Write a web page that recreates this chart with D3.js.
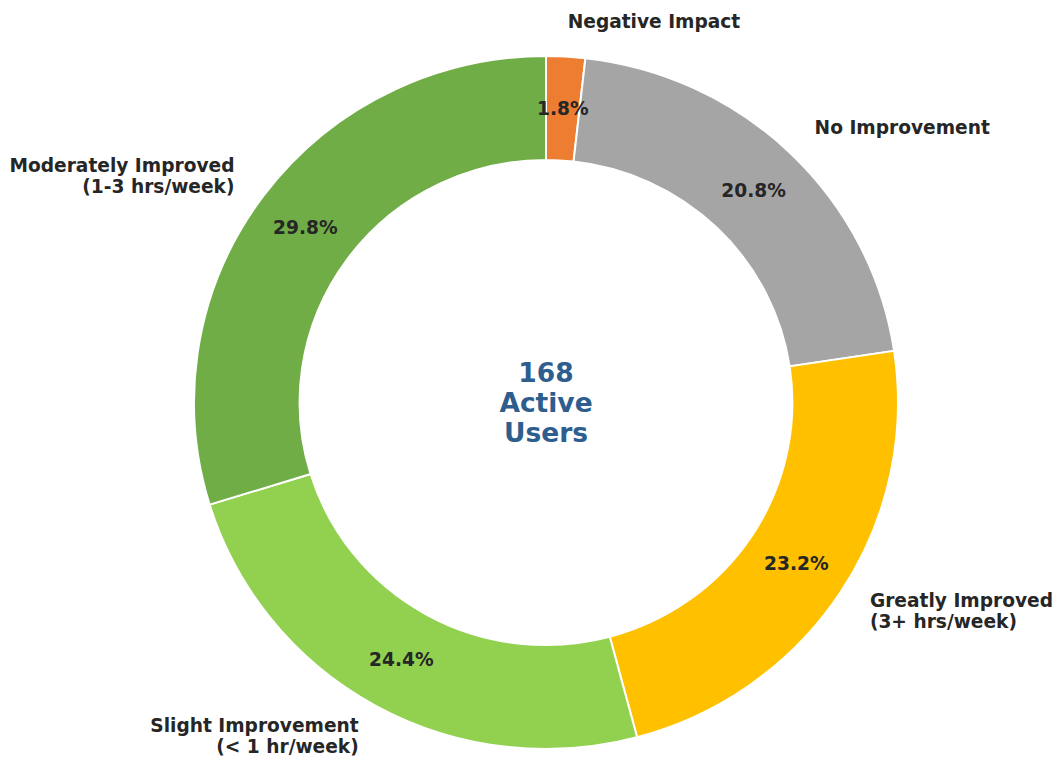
<!DOCTYPE html>
<meta charset="utf-8">
<style>
body { margin: 0; background: #fff; }
svg { font-family: "DejaVu Sans", sans-serif; font-weight: bold; }
.label, .pct { fill: #262626; font-size: 18.6px; }
.center { fill: #2e5e8e; font-size: 26.5px; }
</style>
<body>
<script src="https://cdn.jsdelivr.net/npm/d3@7"></script>
<script>

var categories = ["Negative Impact", "No Improvement", "Greatly Improved\n(3+ hrs/week)",
                  "Slight Improvement\n(< 1 hr/week)", "Moderately Improved\n(1-3 hrs/week)"];
var counts = [3, 35, 39, 41, 50];
var colors = ["#ed7d31", "#a5a5a5", "#ffc000", "#92d050", "#70ad47"];
var centerLines = ["168", "Active", "Users"];

var width = 1061, height = 757,
    cx = 546, cy = 402.5,
    rx = 352, ry = 346.5,
    inner = 0.70;

var total = d3.sum(counts);

var svg = d3.select("body").append("svg")
    .attr("width", width)
    .attr("height", height);

var pie = d3.pie().sort(null).value(function(d) { return d; });
var arcs = pie(counts);

var arc = d3.arc().innerRadius(rx * inner).outerRadius(rx);

// wedges, squeezed slightly in y like the original
svg.append("g")
    .attr("transform", "translate(" + cx + "," + cy + ") scale(1," + (ry / rx) + ")")
  .selectAll("path")
    .data(arcs)
  .enter().append("path")
    .attr("d", arc)
    .attr("fill", function(d, i) { return colors[i]; })
    .attr("stroke", "#fff")
    .attr("stroke-width", 2);

function pos(d, k) {
  var a = (d.startAngle + d.endAngle) / 2;
  return [cx + rx * k * Math.sin(a), cy - ry * k * Math.cos(a)];
}

// percentages
svg.selectAll(".pct")
    .data(arcs)
  .enter().append("text")
    .attr("class", "pct")
    .attr("text-anchor", "middle")
    .attr("dy", "0.33em")
    .attr("x", function(d) { return pos(d, 0.85)[0]; })
    .attr("y", function(d) { return pos(d, 0.85)[1]; })
    .text(function(d) { return (d.value / total * 100).toFixed(1) + "%"; });

// outer labels
var lineH = 21;
svg.selectAll(".label")
    .data(arcs)
  .enter().append("text")
    .attr("class", "label")
    .each(function(d, i) {
      var p = pos(d, 1.1),
          a = (d.startAngle + d.endAngle) / 2,
          lines = categories[i].split("\n"),
          t = d3.select(this)
            .attr("text-anchor", Math.sin(a) >= 0 ? "start" : "end");
      lines.forEach(function(s, j) {
        t.append("tspan")
          .attr("x", p[0])
          .attr("y", p[1] + (j - (lines.length - 1) / 2) * lineH)
          .attr("dy", "0.33em")
          .text(s);
      });
    });

// center text
svg.append("text")
    .attr("class", "center")
    .attr("text-anchor", "middle")
  .selectAll("tspan")
    .data(centerLines)
  .enter().append("tspan")
    .attr("x", cx)
    .attr("y", function(d, i) { return cy + (i - 1) * 30; })
    .attr("dy", "0.34em")
    .text(function(d) { return d; });

</script>
